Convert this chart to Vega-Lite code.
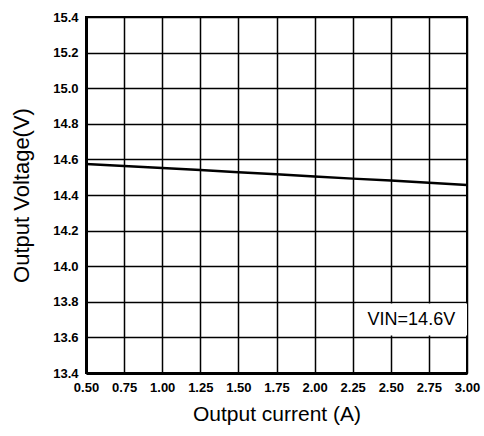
{
  "$schema": "https://vega.github.io/schema/vega-lite/v6.json",
  "width": 381,
  "height": 356,
  "autosize": {"type": "none"},
  "padding": {"left": 86, "top": 17, "right": 17, "bottom": 63},
  "background": "white",
  "config": {
    "view": {"stroke": "black", "strokeWidth": 2},
    "font": "Liberation Sans"
  },
  "datasets": {
    "curve": [
      {"current": 0.50, "voltage": 14.574},
      {"current": 0.75, "voltage": 14.563},
      {"current": 1.00, "voltage": 14.552},
      {"current": 1.25, "voltage": 14.540},
      {"current": 1.50, "voltage": 14.528},
      {"current": 1.75, "voltage": 14.516},
      {"current": 2.00, "voltage": 14.504},
      {"current": 2.25, "voltage": 14.492},
      {"current": 2.50, "voltage": 14.481},
      {"current": 2.75, "voltage": 14.469},
      {"current": 3.00, "voltage": 14.456}
    ],
    "note": [
      {"x1": 2.27, "x2": 3.0, "y1": 13.61, "y2": 13.79, "xt": 2.635, "yt": 13.7, "label": "VIN=14.6V"}
    ]
  },
  "layer": [
    {
      "data": {"name": "curve"},
      "mark": {"type": "line", "color": "black", "strokeWidth": 2.5},
      "encoding": {
        "x": {
          "field": "current", "type": "quantitative",
          "scale": {"domain": [0.5, 3.0], "nice": false, "zero": false},
          "axis": {
            "title": "Output current (A)",
            "values": [0.5, 0.75, 1.0, 1.25, 1.5, 1.75, 2.0, 2.25, 2.5, 2.75, 3.0],
            "tickCount": 11,
            "format": ".2f",
            "grid": true, "gridColor": "black", "gridWidth": 1.5, "gridOpacity": 1,
            "domainColor": "black", "domainWidth": 3,
            "ticks": false,
            "labelFont": "Liberation Sans", "labelFontWeight": "bold", "labelFontSize": 13, "labelColor": "black",
            "labelPadding": 8, "labelFlush": false, "labelOverlap": false,
            "titleFont": "Liberation Sans", "titleFontWeight": "normal", "titleFontSize": 21, "titleColor": "black",
            "titlePadding": 9
          }
        },
        "y": {
          "field": "voltage", "type": "quantitative",
          "scale": {"domain": [13.4, 15.4], "nice": false, "zero": false},
          "axis": {
            "title": "Output Voltage(V)",
            "values": [13.4, 13.6, 13.8, 14.0, 14.2, 14.4, 14.6, 14.8, 15.0, 15.2, 15.4],
            "tickCount": 11,
            "format": ".1f",
            "grid": true, "gridColor": "black", "gridWidth": 1.5, "gridOpacity": 1,
            "domainColor": "black", "domainWidth": 3,
            "ticks": false,
            "labelFont": "Liberation Sans", "labelFontWeight": "bold", "labelFontSize": 13, "labelColor": "black",
            "labelPadding": 8, "labelFlush": false, "labelOverlap": false,
            "titleFont": "Liberation Sans", "titleFontWeight": "normal", "titleFontSize": 22, "titleColor": "black",
            "titlePadding": 19
          }
        }
      }
    },
    {
      "data": {"name": "note"},
      "mark": {"type": "rect", "fill": "white", "stroke": null},
      "encoding": {
        "x": {"field": "x1", "type": "quantitative"},
        "x2": {"field": "x2"},
        "y": {"field": "y1", "type": "quantitative"},
        "y2": {"field": "y2"}
      }
    },
    {
      "data": {"name": "note"},
      "mark": {"type": "text", "font": "Liberation Sans", "fontSize": 18, "color": "black", "align": "center", "baseline": "middle"},
      "encoding": {
        "x": {"field": "xt", "type": "quantitative"},
        "y": {"field": "yt", "type": "quantitative"},
        "text": {"field": "label"}
      }
    }
  ]
}
